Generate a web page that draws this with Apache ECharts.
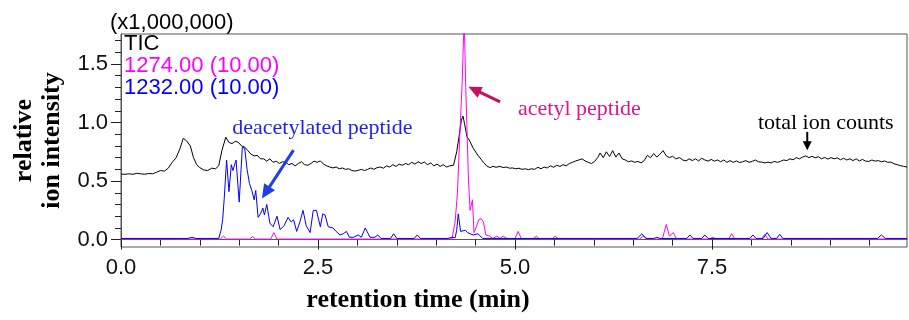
<!DOCTYPE html>
<html><head><meta charset="utf-8">
<script src="https://cdn.jsdelivr.net/npm/echarts@6/dist/echarts.min.js"></script>
<style>html,body{margin:0;padding:0;background:#fff}#c{width:909px;height:320px}</style>
</head><body><div id="c"></div>
<script>
// ---------- data ----------
const xLabelValues = [0, 2.5, 5, 7.5];
const xMinorTicks = [0.5, 1, 1.5, 2, 3, 3.5, 4, 4.5, 5.5, 6, 6.5, 7, 8, 8.5, 9, 9.5];
const yLabelValues = [0, 0.5, 1, 1.5];
const yMinorTicks = [0.1, 0.2, 0.3, 0.4, 0.6, 0.7, 0.8, 0.9, 1.1, 1.2, 1.3, 1.4, 1.6, 1.7];
const seriesNames = ['TIC', '1274.00 (10.00)', '1232.00 (10.00)'];
const unitLabel = '(x1,000,000)';

// TIC: [retention time (min), intensity (x1,000,000)]
const ticPoints = [[0.00,0.560],[0.05,0.558],[0.10,0.562],[0.15,0.558],[0.20,0.566],[0.25,0.562],[0.30,0.558],[0.35,0.565],[0.40,0.562],[0.45,0.575],[0.50,0.590],[0.55,0.585],[0.60,0.610],[0.65,0.660],[0.70,0.700],[0.75,0.780],[0.79,0.865],[0.83,0.845],[0.88,0.800],[0.92,0.700],[0.96,0.640],[1.00,0.615],[1.05,0.595],[1.10,0.590],[1.15,0.610],[1.20,0.605],[1.24,0.630],[1.28,0.760],[1.33,0.875],[1.37,0.830],[1.41,0.820],[1.45,0.840],[1.49,0.830],[1.53,0.800],[1.57,0.790],[1.61,0.760],[1.65,0.730],[1.69,0.715],[1.73,0.720],[1.77,0.690],[1.81,0.690],[1.85,0.670],[1.89,0.690],[1.93,0.660],[1.97,0.670],[2.01,0.650],[2.05,0.665],[2.09,0.660],[2.13,0.640],[2.17,0.650],[2.21,0.630],[2.25,0.650],[2.29,0.665],[2.33,0.640],[2.37,0.635],[2.41,0.650],[2.45,0.670],[2.49,0.660],[2.53,0.672],[2.57,0.645],[2.61,0.630],[2.65,0.620],[2.69,0.612],[2.73,0.620],[2.77,0.605],[2.81,0.612],[2.85,0.600],[2.89,0.605],[2.93,0.590],[2.97,0.585],[3.01,0.592],[3.05,0.600],[3.09,0.590],[3.13,0.600],[3.17,0.612],[3.21,0.600],[3.25,0.615],[3.29,0.620],[3.33,0.610],[3.37,0.630],[3.41,0.620],[3.45,0.640],[3.49,0.625],[3.53,0.645],[3.57,0.635],[3.61,0.650],[3.65,0.640],[3.69,0.660],[3.73,0.645],[3.77,0.665],[3.81,0.650],[3.85,0.662],[3.89,0.640],[3.93,0.655],[3.97,0.630],[4.01,0.645],[4.05,0.625],[4.09,0.640],[4.13,0.620],[4.17,0.630],[4.22,0.635],[4.26,0.750],[4.29,0.880],[4.32,1.020],[4.34,1.055],[4.36,0.990],[4.39,0.880],[4.42,0.850],[4.47,0.780],[4.53,0.720],[4.60,0.660],[4.64,0.630],[4.68,0.615],[4.72,0.625],[4.76,0.618],[4.81,0.625],[4.85,0.615],[4.89,0.620],[4.93,0.610],[4.97,0.612],[5.01,0.605],[5.05,0.610],[5.09,0.600],[5.13,0.605],[5.17,0.598],[5.21,0.605],[5.25,0.600],[5.29,0.618],[5.33,0.605],[5.37,0.620],[5.41,0.612],[5.45,0.630],[5.49,0.618],[5.53,0.635],[5.57,0.625],[5.61,0.640],[5.65,0.630],[5.69,0.650],[5.73,0.660],[5.77,0.672],[5.81,0.680],[5.85,0.690],[5.89,0.672],[5.93,0.660],[5.97,0.650],[6.01,0.668],[6.05,0.700],[6.08,0.740],[6.12,0.700],[6.16,0.750],[6.20,0.710],[6.24,0.760],[6.28,0.705],[6.32,0.740],[6.36,0.690],[6.40,0.680],[6.44,0.665],[6.48,0.672],[6.52,0.660],[6.56,0.668],[6.60,0.655],[6.64,0.675],[6.68,0.720],[6.72,0.700],[6.76,0.735],[6.80,0.705],[6.84,0.730],[6.88,0.760],[6.92,0.715],[6.96,0.700],[7.00,0.712],[7.04,0.690],[7.09,0.700],[7.13,0.680],[7.17,0.672],[7.21,0.690],[7.25,0.675],[7.29,0.690],[7.33,0.672],[7.37,0.695],[7.41,0.680],[7.45,0.670],[7.49,0.685],[7.53,0.670],[7.57,0.680],[7.61,0.665],[7.65,0.680],[7.69,0.660],[7.73,0.675],[7.77,0.660],[7.81,0.672],[7.85,0.658],[7.89,0.665],[7.93,0.675],[7.97,0.660],[8.01,0.668],[8.05,0.680],[8.09,0.665],[8.13,0.662],[8.17,0.655],[8.21,0.662],[8.25,0.655],[8.29,0.668],[8.33,0.660],[8.37,0.668],[8.41,0.680],[8.45,0.675],[8.49,0.690],[8.53,0.682],[8.57,0.700],[8.61,0.690],[8.65,0.705],[8.69,0.715],[8.73,0.700],[8.77,0.712],[8.81,0.698],[8.85,0.708],[8.89,0.690],[8.93,0.702],[8.97,0.688],[9.01,0.700],[9.05,0.690],[9.09,0.698],[9.13,0.682],[9.17,0.695],[9.21,0.680],[9.25,0.690],[9.29,0.675],[9.33,0.690],[9.37,0.672],[9.41,0.685],[9.45,0.670],[9.49,0.668],[9.53,0.680],[9.57,0.670],[9.61,0.675],[9.65,0.665],[9.69,0.672],[9.73,0.660],[9.77,0.662],[9.81,0.648],[9.85,0.640],[9.89,0.632],[9.93,0.626],[9.975,0.620]];

// m/z 1274.00 (acetyl peptide)
const mz1274Points = [[0,0.005],[1.26,0.005],[1.30,0.03],[1.34,0.005],[1.63,0.005],[1.67,0.025],[1.71,0.005],[1.90,0.005],[1.94,0.06],[1.98,0.005],[4.20,0.005],[4.24,0.15],[4.27,0.40],[4.30,0.90],[4.33,1.35],[4.355,1.90],[4.375,1.30],[4.41,0.51],[4.43,0.25],[4.46,0.34],[4.48,0.06],[4.51,0.11],[4.54,0.17],[4.57,0.18],[4.60,0.15],[4.63,0.04],[4.68,0.03],[4.72,0.01],[4.77,0.03],[4.81,0.01],[4.85,0.03],[4.90,0.008],[5.00,0.008],[5.04,0.07],[5.08,0.008],[5.23,0.005],[5.27,0.03],[5.31,0.005],[5.47,0.005],[5.51,0.03],[5.55,0.005],[6.58,0.005],[6.63,0.03],[6.68,0.005],[6.87,0.005],[6.92,0.13],[6.96,0.03],[7.01,0.06],[7.05,0.005],[7.47,0.005],[7.51,0.02],[7.55,0.005],[7.71,0.005],[7.75,0.05],[7.79,0.005],[8.13,0.005],[8.17,0.045],[8.21,0.005],[9.975,0.005]];

// m/z 1232.00 (deacetylated peptide)
const mz1232Points = [[0,0.01],[0.85,0.01],[0.90,0.02],[0.95,0.01],[1.24,0.01],[1.27,0.08],[1.29,0.17],[1.31,0.35],[1.34,0.68],[1.37,0.41],[1.40,0.64],[1.42,0.59],[1.46,0.68],[1.50,0.32],[1.54,0.79],[1.57,0.78],[1.60,0.60],[1.63,0.48],[1.66,0.42],[1.69,0.34],[1.71,0.42],[1.74,0.19],[1.77,0.22],[1.80,0.27],[1.82,0.21],[1.85,0.30],[1.89,0.14],[1.93,0.11],[1.98,0.20],[2.02,0.085],[2.07,0.12],[2.12,0.19],[2.16,0.15],[2.19,0.17],[2.23,0.07],[2.27,0.15],[2.31,0.25],[2.35,0.12],[2.40,0.06],[2.44,0.25],[2.48,0.25],[2.53,0.11],[2.56,0.22],[2.59,0.21],[2.63,0.11],[2.69,0.10],[2.73,0.07],[2.78,0.04],[2.82,0.05],[2.86,0.07],[2.90,0.02],[2.95,0.02],[3.01,0.04],[3.05,0.02],[3.10,0.10],[3.16,0.02],[3.22,0.02],[3.26,0.04],[3.30,0.01],[3.42,0.01],[3.46,0.05],[3.50,0.01],[3.72,0.01],[3.76,0.04],[3.80,0.01],[4.15,0.01],[4.20,0.02],[4.24,0.015],[4.26,0.08],[4.28,0.22],[4.31,0.07],[4.33,0.06],[4.37,0.08],[4.40,0.06],[4.43,0.05],[4.47,0.04],[4.53,0.05],[4.59,0.01],[6.55,0.01],[6.61,0.05],[6.66,0.01],[6.76,0.01],[6.80,0.02],[6.84,0.01],[7.18,0.01],[7.22,0.04],[7.26,0.01],[7.37,0.01],[7.41,0.04],[7.45,0.01],[7.98,0.01],[8.02,0.04],[8.06,0.01],[8.15,0.01],[8.20,0.06],[8.25,0.01],[8.32,0.01],[8.36,0.045],[8.40,0.01],[9.60,0.01],[9.65,0.04],[9.70,0.01],[9.975,0.01]];

// annotations (data coordinates)
const annotationTexts = ['deacetylated peptide', 'acetyl peptide', 'total ion counts'];
const annotationAnchors = [[1.412, 0.955], [5.039, 1.110], [8.083, 0.998]];
const arrowStarts = [[2.189, 0.764], [4.811, 1.177], [8.709, 0.920]];
const arrowEnds = [[1.788, 0.351], [4.409, 1.305], [8.709, 0.764]];

// ---------- chart ----------
const SANS = '"Liberation Sans", Arial, sans-serif';
const SERIF = '"Liberation Serif", "Times New Roman", serif';
const colors = ['#000000', '#ff00ff', '#0000ff'];
const annColors = ['#1f1fef', '#e0148c', '#000000'];
const arrowColors = ['#1f3fe6', '#c8105e', '#000000'];

const chart = echarts.init(document.getElementById('c'), null, {renderer: 'canvas'});
const X_MIN = 0, X_MAX = 9.975, Y_MIN = -0.063, Y_MAX = 1.756;
const axisLineStyle = {color: '#555', width: 1};
const tickStyle = {color: '#222', width: 1};

chart.setOption({
  animation: false,
  backgroundColor: '#fff',
  grid: {left: 121, right: 2, top: 34, bottom: 73, show: true, borderColor: '#555', borderWidth: 1, backgroundColor: 'transparent'},
  legend: {
    orient: 'vertical', left: 118, top: 33, padding: 0, itemGap: 0,
    itemWidth: 0, itemHeight: 0, selectedMode: false,
    data: seriesNames.map((n, i) => ({name: n, textStyle: {color: colors[i]}})),
    textStyle: {fontFamily: SANS, fontSize: 22, lineHeight: 22}
  },
  xAxis: [{
    type: 'value', min: X_MIN, max: X_MAX, position: 'bottom',
    axisLine: {show: true, lineStyle: axisLineStyle},
    axisTick: {show: true, length: 10, lineStyle: tickStyle, customValues: xLabelValues},
    axisLabel: {show: true, customValues: xLabelValues, formatter: v => v.toFixed(1), fontFamily: SANS, fontSize: 22, color: '#111', margin: 10},
    splitLine: {show: false},
    name: 'retention time (min)', nameLocation: 'middle', nameGap: 40,
    nameTextStyle: {fontFamily: SERIF, fontWeight: 'bold', fontSize: 26, color: '#000', padding: [0, 192, 0, 0]}
  }, {
    type: 'value', min: X_MIN, max: X_MAX, position: 'bottom',
    axisLine: {show: false},
    axisTick: {show: true, length: 6, lineStyle: tickStyle, customValues: xMinorTicks},
    axisLabel: {show: false}, splitLine: {show: false}
  }],
  yAxis: [{
    type: 'value', min: Y_MIN, max: Y_MAX, position: 'left',
    axisLine: {show: true, lineStyle: axisLineStyle},
    axisTick: {show: true, length: 10, lineStyle: tickStyle, customValues: yLabelValues},
    axisLabel: {show: true, customValues: yLabelValues, formatter: v => v.toFixed(1), fontFamily: SANS, fontSize: 22, color: '#111', margin: 13},
    splitLine: {show: false}
  }, {
    type: 'value', min: Y_MIN, max: Y_MAX, position: 'left',
    axisLine: {show: false},
    axisTick: {show: true, length: 6, lineStyle: tickStyle, customValues: yMinorTicks},
    axisLabel: {show: false}, splitLine: {show: false},
    name: 'relative\nion intensity', nameLocation: 'middle', nameGap: 55, nameRotate: 90,
    nameTextStyle: {fontFamily: SERIF, fontWeight: 'bold', fontSize: 26, lineHeight: 28, color: '#000'}
  }],
  series: [
    {name: seriesNames[0], type: 'line', data: ticPoints, showSymbol: false, symbol: 'none', lineStyle: {color: colors[0], width: 1}, itemStyle: {color: colors[0]}, clip: true, z: 2},
    {name: seriesNames[1], type: 'line', data: mz1274Points, showSymbol: false, symbol: 'none', lineStyle: {color: colors[1], width: 1}, itemStyle: {color: colors[1]}, clip: true, z: 3},
    {name: seriesNames[2], type: 'line', data: mz1232Points, showSymbol: false, symbol: 'none', lineStyle: {color: colors[2], width: 1}, itemStyle: {color: colors[2]}, clip: true, z: 4}
  ]
});

function arrowEls(p0, p1, color, lw, hl, hw) {
  const dx = p1[0] - p0[0], dy = p1[1] - p0[1];
  const L = Math.hypot(dx, dy), ux = dx / L, uy = dy / L;
  const bx = p1[0] - ux * hl, by = p1[1] - uy * hl;
  const nx = -uy, ny = ux;
  return [
    {type: 'line', silent: true, z: 10, shape: {x1: p0[0], y1: p0[1], x2: bx + ux, y2: by + uy}, style: {stroke: color, lineWidth: lw}},
    {type: 'polygon', silent: true, z: 10, shape: {points: [[p1[0], p1[1]], [bx + nx * hw / 2, by + ny * hw / 2], [bx - nx * hw / 2, by - ny * hw / 2]]}, style: {fill: color}}
  ];
}

const toPx = p => chart.convertToPixel({seriesIndex: 0}, p);
const graphics = [{
  type: 'text', silent: true, x: 110, y: 22.5,
  style: {text: unitLabel, fill: '#000', font: '22px ' + SANS, textAlign: 'left', textVerticalAlign: 'middle', align: 'left', verticalAlign: 'middle'}
}];
const arrowSizes = [[3, 14, 13], [3, 13, 12], [2, 9, 9]];
annotationTexts.forEach((t, i) => {
  const a = toPx(annotationAnchors[i]);
  graphics.push({
    type: 'text', silent: true, x: a[0], y: a[1], z: 10,
    style: {text: t, fill: annColors[i], font: '22px ' + SERIF, textAlign: 'left', textVerticalAlign: 'middle', align: 'left', verticalAlign: 'middle'}
  });
  const s = arrowSizes[i];
  arrowEls(toPx(arrowStarts[i]), toPx(arrowEnds[i]), arrowColors[i], s[0], s[1], s[2]).forEach(g => graphics.push(g));
});
chart.setOption({graphic: graphics});
</script>
</body></html>
